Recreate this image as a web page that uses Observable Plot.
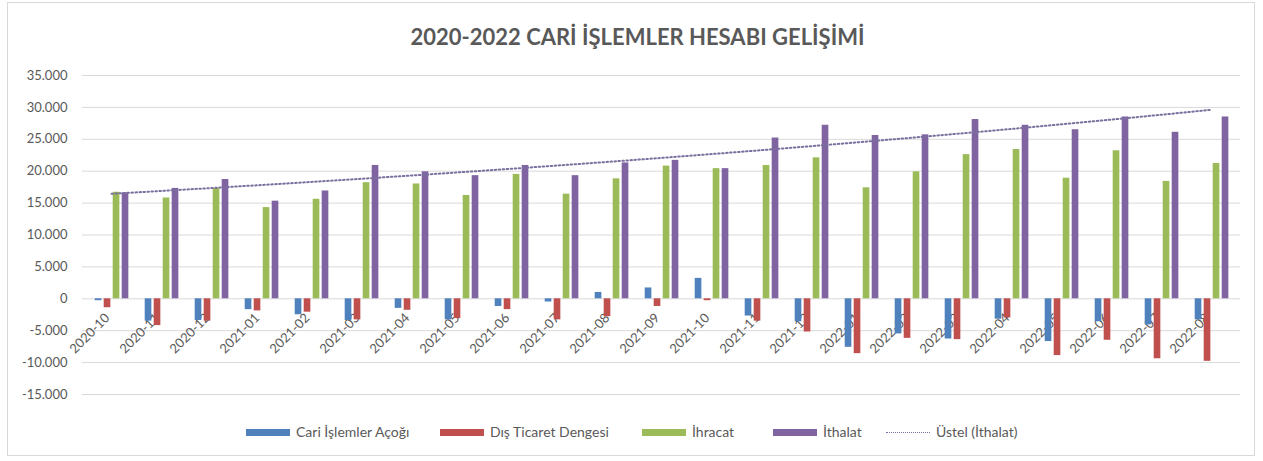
<!DOCTYPE html>
<html>
<head>
<meta charset="utf-8">
<script src="https://cdn.jsdelivr.net/npm/d3@7"></script>
<script src="https://cdn.jsdelivr.net/npm/@observablehq/plot@0.6"></script>
<style>
  body { margin: 0; background: #fff; font-family: Lato, Carlito, Calibri, sans-serif; }
  #wrap { position: relative; width: 1263px; height: 461px; overflow: hidden; background: #fff; }
  #frame { position: absolute; left: 7px; top: 2px; width: 1246px; height: 452px; border: 1px solid #d9d9d9; }
  #title { position: absolute; left: 0; top: 24px; width: 1275px; text-align: center; font-weight: bold; font-size: 22px; line-height: 26px; color: #595959; }
  #chart { position: absolute; left: 0; top: 60px; }
  #legend { position: absolute; left: 0; top: 424px; width: 1263px; height: 16px; font-size: 14px; line-height: 16px; color: #595959; white-space: nowrap; }
  .item { position: absolute; top: 0; display: flex; align-items: center; height: 16px; }
  .sw { width: 44px; height: 7px; margin-right: 6px; }
  .dot { width: 44px; height: 0; border-top: 1.5px dotted #7f6aa5; margin-right: 6px; }
</style>
</head>
<body>
<div id="wrap">
  <div id="frame"></div>
  <div id="title"></div>
  <div id="chart"></div>
  <div id="legend"></div>
</div>
<script>
// ---- data ----
const title = "2020-2022 CARİ İŞLEMLER HESABI GELİŞİMİ";
const months = ["2020-10","2020-11","2020-12","2021-01","2021-02","2021-03","2021-04","2021-05","2021-06","2021-07","2021-08","2021-09","2021-10","2021-11","2021-12","2022-01","2022-02","2022-03","2022-04","2022-05","2022-06","2022-07","2022-08"];
const cariAcik = [-300,-3500,-3400,-1700,-2500,-3400,-1500,-3300,-1200,-500,1000,1700,3200,-2700,-3600,-7600,-5500,-6300,-3200,-6700,-3600,-4100,-3300];
const disTicaret = [-1400,-4200,-3500,-1900,-2100,-3300,-1800,-3100,-1700,-3300,-2800,-1200,-300,-3500,-5200,-8600,-6200,-6400,-3000,-8900,-6500,-9400,-9800];
const ihracat = [16700,15800,17300,14300,15600,18200,18000,16200,19500,16400,18800,20800,20400,20900,22100,17400,19900,22600,23400,18900,23200,18400,21200];
const ithalat = [16600,17300,18700,15300,16900,20900,19900,19300,20900,19300,21300,21700,20400,25200,27200,25600,25700,28100,27200,26500,28500,26100,28500];
const seriesNames = ["Cari İşlemler Açoğı","Dış Ticaret Dengesi","İhracat","İthalat"];
const trendName = "Üstel (İthalat)";
const yTicks = [-15000,-10000,-5000,0,5000,10000,15000,20000,25000,30000,35000];

// ---- styles ----
const colors = ["#4F81BD","#C0504D","#9BBB59","#8064A2"];
const trendColor = "#7a6f9e";
const legendX = [246, 440, 642, 773, 886];

const seriesValues = [cariAcik, disTicaret, ihracat, ithalat];
const rows = months.map((m, i) => ({month: m, v: seriesValues.map(s => s[i])}));

// exponential trend (least squares on log values, like Excel "Üstel")
const xs = d3.range(1, ithalat.length + 1);
const ls = ithalat.map(Math.log);
const mx = d3.mean(xs), ml = d3.mean(ls);
const b = d3.sum(xs, (x, i) => (x - mx) * (ls[i] - ml)) / d3.sum(xs, x => (x - mx) ** 2);
const a = ml - b * mx;
const trend = months.map((m, i) => ({month: m, v: Math.exp(a + b * (i + 1))}));

const fmt = d3.formatLocale({decimal: ",", thousands: ".", grouping: [3], currency: ["", ""], minus: "-"}).format(",");

const W = 1263, H = 350, ML = 82, MR = 23, MT = 15, MB = 16;
const bw = (W - ML - MR) / months.length;
const barW = 7, step = 9, off0 = 8.7;

const marks = [
  Plot.ruleY(yTicks, {stroke: "#d9d9d9", strokeWidth: 1}),
  Plot.axisY(yTicks, {tickSize: 0, tickPadding: 15, tickFormat: fmt, fontSize: 13, fill: "#595959", label: null}),
  Plot.text(months, {x: d => d, y: d => 0, rotate: -45, textAnchor: "end", dx: -4, dy: 17, fontSize: 13, fill: "#595959"})
];
seriesValues.forEach((s, k) => {
  const left = off0 + k * step;
  marks.push(Plot.barY(rows, {x: "month", y: d => d.v[k], fill: colors[k], insetLeft: left, insetRight: bw - left - barW}));
});
marks.push(Plot.line(trend, {x: "month", y: "v", stroke: trendColor, strokeWidth: 2, strokeDasharray: "1.5 2.5"}));

const chart = Plot.plot({
  width: W, height: H,
  marginLeft: ML, marginRight: MR, marginTop: MT, marginBottom: MB,
  style: {fontFamily: "Lato, Carlito, Calibri, sans-serif", background: "transparent"},
  x: {type: "band", domain: months, padding: 0, axis: null},
  y: {domain: [-15000, 35000], axis: null},
  marks
});
document.getElementById("chart").appendChild(chart);
document.getElementById("title").textContent = title;

const legend = document.getElementById("legend");
seriesNames.concat([trendName]).forEach((n, k) => {
  const it = document.createElement("div"); it.className = "item"; it.style.left = legendX[k] + "px";
  const sw = document.createElement("div");
  if (k < seriesNames.length) { sw.className = "sw"; sw.style.background = colors[k]; } else { sw.className = "dot"; }
  const tx = document.createElement("span"); tx.textContent = n;
  it.append(sw, tx); legend.append(it);
});
</script>
</body>
</html>
